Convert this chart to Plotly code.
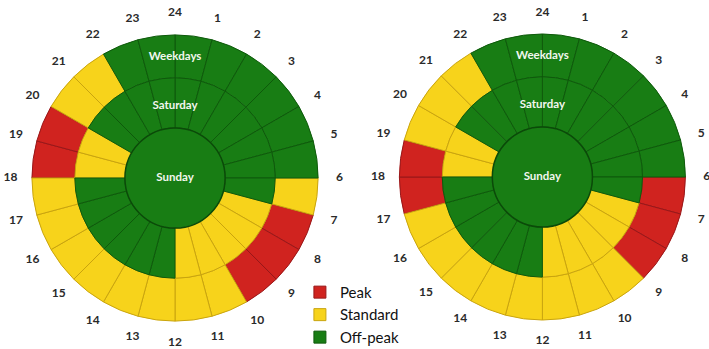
import plotly.graph_objects as go

# Hour-of-day segments (segment i runs from hour i to hour i+1, clockwise from the top)
HOUR_LABELS = ["24", "1", "2", "3", "4", "5", "6", "7", "8", "9", "10", "11",
               "12", "13", "14", "15", "16", "17", "18", "19", "20", "21", "22", "23"]

# Tariff period per hour: P = Peak, S = Standard, O = Off-peak
LOW_WEEKDAYS = ["O", "O", "O", "O", "O", "O", "S", "P", "P", "P", "S", "S",
                "S", "S", "S", "S", "S", "S", "P", "P", "S", "S", "O", "O"]
LOW_SATURDAY = ["O", "O", "O", "O", "O", "O", "O", "S", "S", "S", "S", "S",
                "O", "O", "O", "O", "O", "O", "S", "S", "O", "O", "O", "O"]
HIGH_WEEKDAYS = ["O", "O", "O", "O", "O", "O", "P", "P", "P", "S", "S", "S",
                 "S", "S", "S", "S", "S", "P", "P", "S", "S", "S", "O", "O"]
HIGH_SATURDAY = ["O", "O", "O", "O", "O", "O", "O", "S", "S", "S", "S", "S",
                 "O", "O", "O", "O", "O", "O", "S", "S", "O", "O", "O", "O"]
SUNDAY = "O"  # the whole of Sunday is off-peak

RING_NAMES = ["Weekdays", "Saturday", "Sunday"]

PERIODS = [("P", "Peak"), ("S", "Standard"), ("O", "Off-peak")]
FILL = {"P": "#D0231F", "S": "#F7D31B", "O": "#187D14"}
EDGE = {"P": "#98181A", "S": "#C9A40F", "O": "#0F5A0C"}

# Ring radii in radial-axis units
SUN_R, SAT_R, WKD_R = 0.35, 0.70, 1.0
LABEL_R = 1.15
RING_LABEL_R = {"Weekdays": 0.845, "Saturday": 0.5, "Sunday": 0.0}

FONT = "Lato"

fig = go.Figure()


def add_wheel(weekdays, saturday, polar, show_legend):
    for code, name in PERIODS:
        theta, r, base = [], [], []
        for i, c in enumerate(weekdays):
            if c == code:
                theta.append(i * 15 + 7.5)
                r.append(WKD_R - SAT_R)
                base.append(SAT_R)
        for i, c in enumerate(saturday):
            if c == code:
                theta.append(i * 15 + 7.5)
                r.append(SAT_R - SUN_R)
                base.append(SUN_R)
        fig.add_trace(go.Barpolar(
            theta=theta, r=r, base=base, width=[15] * len(theta),
            marker=dict(color=FILL[code], line=dict(color=EDGE[code], width=1)),
            name=name, legendgroup=name, showlegend=show_legend,
            subplot=polar, hoverinfo="skip",
        ))
    # Sunday: one solid disc
    fig.add_trace(go.Barpolar(
        theta=[0], r=[SUN_R], base=[0], width=[360],
        marker=dict(color=FILL[SUNDAY], line=dict(color="#0B4A09", width=1.5)),
        showlegend=False, subplot=polar, hoverinfo="skip",
    ))
    # hour labels around the wheel
    fig.add_trace(go.Scatterpolar(
        theta=[i * 15 for i in range(24)], r=[LABEL_R] * 24,
        mode="text", text=HOUR_LABELS, cliponaxis=False,
        textfont=dict(family=FONT, size=12, color="#2a2a2a", weight="bold"),
        showlegend=False, subplot=polar, hoverinfo="skip",
    ))
    # ring names
    fig.add_trace(go.Scatterpolar(
        theta=[0, 0, 0], r=[RING_LABEL_R[n] for n in RING_NAMES],
        mode="text", text=RING_NAMES, cliponaxis=False,
        textfont=dict(family=FONT, size=11.5, color="#F2F7EE", weight="bold"),
        showlegend=False, subplot=polar, hoverinfo="skip",
    ))


add_wheel(LOW_WEEKDAYS, LOW_SATURDAY, "polar", True)
add_wheel(HIGH_WEEKDAYS, HIGH_SATURDAY, "polar2", False)

polar_style = dict(
    bgcolor="rgba(0,0,0,0)",
    radialaxis=dict(visible=False, range=[0, 1.16]),
    angularaxis=dict(visible=False, direction="clockwise", rotation=90),
    barmode="overlay", bargap=0,
)

fig.update_layout(
    width=709, height=349,
    margin=dict(l=0, r=0, t=0, b=0, autoexpand=False),
    paper_bgcolor="white", plot_bgcolor="white",
    polar=dict(domain=dict(x=[0.0127, 0.481], y=[0.0143, 0.9656]), **polar_style),
    polar2=dict(domain=dict(x=[0.531, 0.999], y=[0.0172, 0.9685]), **polar_style),
    legend=dict(
        x=0.423, y=-0.014, xanchor="left", yanchor="bottom",
        font=dict(family=FONT, size=15, color="#111"),
        bgcolor="rgba(0,0,0,0)", tracegroupgap=0, itemwidth=30,
    ),
)

fig.write_html("out.html")
